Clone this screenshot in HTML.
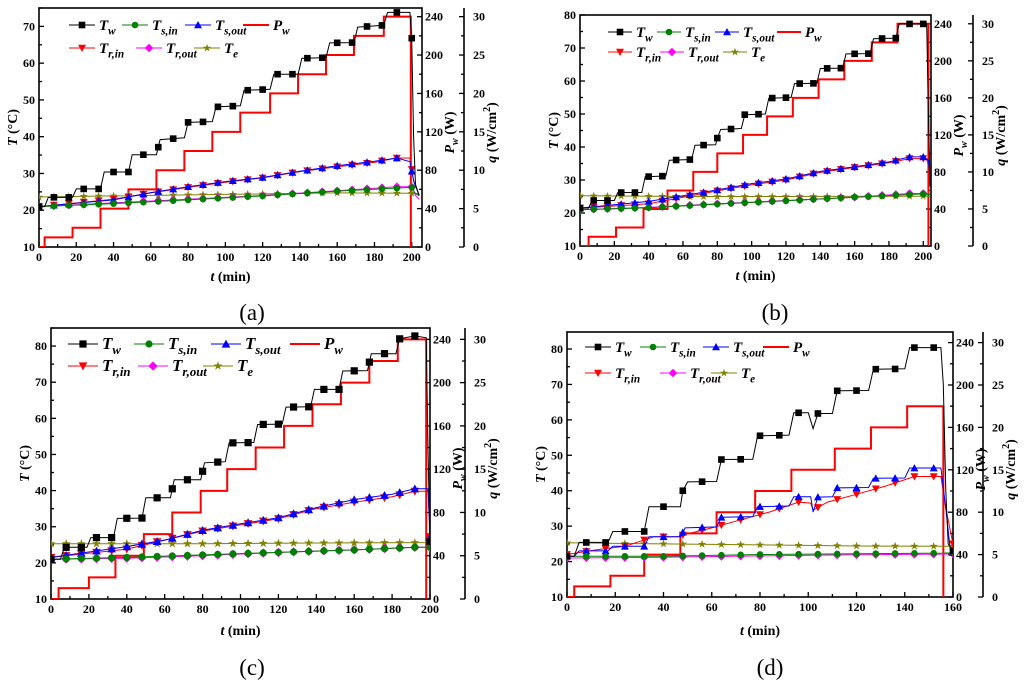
<!DOCTYPE html>
<html><head><meta charset="utf-8">
<style>
html,body{margin:0;padding:0;background:#fff;}
svg{display:block;}
svg text{font-family:"Liberation Serif",serif;}
.tk{font-size:12px;font-weight:bold;}
.cap{font-size:23px;}
</style></head>
<body>
<svg id="fig" width="1024" height="689" viewBox="0 0 1024 689"></svg>
<script>
// ---------- DATA ----------
const aTw=[[0,21],[3,21],[5,23.5],[18,23.5],[20,25.8],[33,25.8],[35,30.4],[48,30.4],[50,35.1],[63,35.1],[65,39.2],[78,39.7],[80,43.9],[93,44.1],[95,48.1],[108,48.4],[110,52.6],[124,52.9],[126,57],[139,57],[141,61.3],[154,61.5],[156,65.5],[169,65.6],[171,69.8],[185,70.3],[187,73.8],[199,73.8],[200,66.8],[201,40],[202,27],[204,24]];
const aTsin=[[0,21],[40,21.8],[80,22.8],[120,23.9],[160,25.2],[200,26.2],[202,24.5],[204,24]];
const aTsout=[[0,21],[40,22.8],[60,24.8],[80,26.4],[100,27.8],[120,28.9],[140,30.6],[160,32.1],[180,33.3],[192,34.2],[199,33.2],[201,28],[204,24]];
const aTrin=[[0,21],[40,23],[60,24.7],[80,26.2],[100,27.6],[120,28.8],[140,30.5],[160,31.8],[180,33],[192,34.2],[199,34.2],[201,28],[204,24]];
const aTrout=[[0,21],[40,22],[80,23],[120,24],[160,25.3],[192,26.4],[200,26.4],[202,24],[204,23]];
const aTe=[[0,23.6],[40,23.9],[100,24.3],[160,24.7],[200,24.6],[204,24.5]];
const aPwT=[0,3,18,33,48,63,78,93,108,124,139,154,169,185,199.5];
const aPwV=[0,10,20,40,60,80,100,120,140,160,180,200,220,240];

const bTw=[[0,21.5],[5,21.5],[7,23.8],[20,23.8],[22,26.2],[36,26.2],[38,31],[50,31.2],[52,36],[65,36.2],[67,40.5],[79,40.7],[80,42.7],[82,45.3],[94,45.6],[96,49.8],[108,50],[110,54.8],[123,55],[125,59.2],[138,59.3],[140,63.8],[153,63.9],[155,68.2],[169,68.3],[171,72.8],[184,73],[186,77.3],[202,77.3],[203,50],[204,28]];
const bTsin=[[0,21],[40,21.6],[80,22.7],[120,23.7],[160,24.8],[200,25.8],[204,25.5]];
const bTsout=[[0,21.5],[40,23.5],[60,25.2],[80,27],[100,28.9],[120,30.3],[140,32.6],[160,34],[180,35.5],[192,37],[200,37],[203,36],[204,31]];
const bTrin=[[0,21.5],[40,22.8],[60,24.8],[80,26.7],[100,28.5],[120,30],[140,32.3],[160,33.8],[180,35.2],[192,36.5],[202,36.5],[204,32]];
const bTrout=[[0,21],[40,21.7],[80,22.8],[120,23.8],[160,24.8],[192,25.9],[200,25.9],[204,25.8]];
const bTe=[[0,25.2],[60,25],[120,25],[200,25.1],[204,25]];
const bPwT=[0,5,21,37,51,66,80,95,109,124,139,154,170,185,203];
const bPwV=[0,10,20,40,60,80,100,120,140,160,180,200,220,240];

const cTw=[[0,21],[5,21],[7,24.3],[19,24.3],[21,27],[33,27],[35,32.3],[48,32.4],[50,38],[63,38],[65,43],[79,43],[81,47.7],[92,48],[94,53.2],[107,53.3],[109,58.3],[122,58.4],[124,63.1],[137,63.2],[139,68],[152,68],[154,73.1],[167,73.2],[169,77.9],[182,77.9],[184,82],[192,82.8],[198,82.3],[199,50],[200,26]];
const cTsin=[[0,21],[40,21.5],[80,22.2],[120,22.9],[160,23.6],[192,24.3],[200,24.3]];
const cTsout=[[0,21.5],[40,24.5],[60,26.3],[80,29],[100,30.8],[120,32.5],[140,35.3],[160,37.5],[180,39],[192,40.5],[199,40.5],[200,27]];
const cTrin=[[0,21.5],[40,23.8],[60,26.3],[80,28.8],[100,30.5],[120,32.2],[140,35],[160,36.8],[180,38.3],[192,39.8],[199,39.8],[200,27]];
const cTrout=[[0,21],[40,21.3],[80,22],[120,22.9],[160,23.6],[192,24.3],[200,24.3]];
const cTe=[[0,25.3],[80,25.3],[140,25.5],[200,25.6]];
const cPwT=[0,4,20,34,49,64,79,93,108,123,138,153,168,183,198];
const cPwV=[0,10,20,40,60,80,100,120,140,160,180,200,220,240];

const dTw=[[0,21.5],[3,21.5],[5,25.4],[17,25.4],[19,28.5],[32,28.5],[34,35.5],[47,35.5],[48,40],[50,42.5],[62,42.6],[64,48.8],[77,48.9],[79,55.5],[92,55.7],[94,62],[100,62],[102,57.5],[104,61.8],[110,61.8],[112,68.2],[125,68.3],[127,74.3],[140,74.4],[142,80.4],[155,80.4],[156,70],[157,40],[158,25],[160,23]];
const dTsin=[[0,21.5],[40,21.5],[80,22],[120,22.2],[156,22.4],[160,22.5]];
const dTsout=[[0,21.5],[3,21.5],[5,23],[17,23],[19,24.3],[32,24.3],[34,27],[47,27],[49,29.5],[62,29.8],[64,32.5],[77,32.7],[79,35.5],[92,35.7],[94,38.3],[101,38.3],[102,34],[104,38.2],[110,38.3],[112,40.8],[125,40.9],[127,43.5],[140,43.6],[142,46.4],[155,46.4],[157,35],[159,22.5],[160,22.5]];
const dTrin=[[0,22],[12,23.3],[24,24.3],[36,27],[46,27],[48,27.5],[60,29.5],[72,31.8],[84,34],[96,36.8],[101,36.5],[102,34.5],[108,36.8],[120,39],[132,41.3],[144,44],[155,44],[157,35],[160,25]];
const dTrout=[[0,21],[40,21.2],[80,21.6],[120,21.9],[156,22.1],[160,22.2]];
const dTe=[[0,25.3],[40,25],[80,24.7],[120,24.4],[160,24.3]];
const dPwT=[0,3,18,32,47,62,78,93,111,126,141,156];
const dPwV=[0,10,20,40,60,80,100,120,140,160,180];

// ---------- DRAWING ----------
const NS="http://www.w3.org/2000/svg";
const fig=document.getElementById('fig');
function mk(tag,attrs,parent){const e=document.createElementNS(NS,tag);for(const k in attrs)e.setAttribute(k,attrs[k]);if(tag==='text')e.setAttribute('font-family','Liberation Serif, serif');(parent||fig).appendChild(e);return e;}
function interp(pts,t){for(let i=0;i<pts.length-1;i++){if(t>=pts[i][0]&&t<=pts[i+1][0]){const f=(t-pts[i][0])/((pts[i+1][0]-pts[i][0])||1);return pts[i][1]+f*(pts[i+1][1]-pts[i][1]);}}return null;}
function marker(g,type,x,y,col,s){
  let e;
  if(type==='sq'){e=mk('rect',{x:x-s,y:y-s,width:2*s,height:2*s,fill:col},g);}
  else if(type==='ci'){e=mk('circle',{cx:x,cy:y,r:s,fill:col},g);}
  else if(type==='up'){e=mk('polygon',{points:`${x},${y-s*1.2} ${x-s*1.2},${y+s} ${x+s*1.2},${y+s}`,fill:col},g);}
  else if(type==='dn'){e=mk('polygon',{points:`${x},${y+s*1.2} ${x-s*1.2},${y-s} ${x+s*1.2},${y-s}`,fill:col},g);}
  else if(type==='di'){e=mk('polygon',{points:`${x},${y-s*1.3} ${x+s*1.3},${y} ${x},${y+s*1.3} ${x-s*1.3},${y}`,fill:col},g);}
  else {let p=[];for(let i=0;i<10;i++){const r=i%2?s*0.5:s*1.3;const a=-Math.PI/2+i*Math.PI/5;p.push((x+r*Math.cos(a)).toFixed(1)+','+(y+r*Math.sin(a)).toFixed(1));}e=mk('polygon',{points:p.join(' '),fill:col},g);}
  
  
}
const SER=[
 {k:'Tw',col:'#000',m:'sq',sub:'w'},
 {k:'Tsin',col:'#008000',m:'ci',sub:'s,in'},
 {k:'Tsout',col:'#0000ff',m:'up',sub:'s,out'},
 {k:'Trin',col:'#ff0000',m:'dn',sub:'r,in'},
 {k:'Trout',col:'#ff00ff',m:'di',sub:'r,out'},
 {k:'Te',col:'#808000',m:'st',sub:'e'}
];
function label(g,x,y,main,sub,fs){
  const t=mk('text',{x:x,y:y,'font-size':fs,'font-style':'italic','font-weight':'bold'},g);
  t.appendChild(document.createTextNode(main));
  const s=mk('tspan',{'font-size':fs*0.75,dy:fs*0.3},t);s.textContent=sub;
  return t;
}
function panel(p){
  const g=mk('g',{});
  
  
  const X=t=>p.L+(t-p.x0)/(p.x1-p.x0)*(p.R-p.L);
  const Y=v=>p.B-(v-p.y0)/(p.y1-p.y0)*(p.B-p.T);
  const YP=v=>p.B-(v)/(p.pw1)*(p.B-p.T);
  const fr=mk('rect',{x:p.L,y:p.T,width:p.R-p.L,height:p.B-p.T,fill:'none',stroke:'#000','stroke-width':1.6},g);
  
  for(let v=10;v<=p.y1;v+=5){const y=Y(v);const big=v%10===0;mk('line',{x1:p.L,y1:y,x2:p.L+(big?5:3),y2:y,stroke:'#000','stroke-width':1.3},g);
    if(big){const t=mk('text',{x:p.L-4,y:y+4,'text-anchor':'end',class:'tk'},g);t.textContent=v;}}
  for(let v=0;v<=p.x1;v+=10){const x=X(v);const big=v%20===0;mk('line',{x1:x,y1:p.B,x2:x,y2:p.B-(big?5:3),stroke:'#000','stroke-width':1.3},g);
    if(big){const t=mk('text',{x:x,y:p.B+14,'text-anchor':'middle',class:'tk'},g);t.textContent=v;}}
  for(let v=0;v<=p.pw1;v+=20){const y=YP(v);const big=v%40===0;mk('line',{x1:p.R,y1:y,x2:p.R-(big?5:3),y2:y,stroke:'#000','stroke-width':1.3},g);
    if(big){const t=mk('text',{x:p.R+3,y:y+4,class:'tk'},g);t.textContent=v;}}
  mk('line',{x1:p.Q,y1:p.T,x2:p.Q,y2:p.B,stroke:'#000','stroke-width':1.6},g);
  for(let v=0;v<=p.pw1/8;v+=2.5){const y=YP(v*8);const big=v%5===0;mk('line',{x1:p.Q,y1:y,x2:p.Q-(big?5:3),y2:y,stroke:'#000','stroke-width':1.3},g);
    if(big){const t=mk('text',{x:p.Q+9,y:y+4,class:'tk'},g);t.textContent=v;}}
  const yt=mk('text',{x:0,y:0,'font-size':14,'font-weight':'bold',transform:`translate(${p.L-22},${(p.T+p.B)/2}) rotate(-90)`,'text-anchor':'middle'},g);
  yt.innerHTML='<tspan font-style="italic">T</tspan> (°C)';
  const pt=mk('text',{x:0,y:0,'font-size':14,'font-weight':'bold',transform:`translate(${p.R+32},${(p.T+p.B)/2+5}) rotate(-90)`,'text-anchor':'middle'},g);
  pt.innerHTML='<tspan font-style="italic">P</tspan><tspan font-style="italic" font-size="10" dy="4">w</tspan><tspan dy="-4"> (W)</tspan>';
  const qt=mk('text',{x:0,y:0,'font-size':14,'font-weight':'bold',transform:`translate(${p.Q+32},${(p.T+p.B)/2+5}) rotate(-90)`,'text-anchor':'middle'},g);
  qt.innerHTML='<tspan font-style="italic">q</tspan> (W/cm<tspan font-size="10" dy="-6">2</tspan><tspan dy="6">)</tspan>';
  const xt=mk('text',{x:(p.L+p.R)/2,y:p.xtY,'font-size':14,'font-weight':'bold','text-anchor':'middle'},g);
  xt.innerHTML='<tspan font-style="italic">t</tspan> (min)';
  const cp=mk('text',{x:p.capX,y:p.capY,'text-anchor':'middle',class:'cap'},g);cp.textContent='('+p.id+')';
  const cid='clip'+p.id;const cl=mk('clipPath',{id:cid},g);mk('rect',{x:p.L,y:p.T,width:p.R-p.L,height:p.B-p.T},cl);
  const dg=mk('g',{'clip-path':`url(#${cid})`},g);
  let d=`M${X(p.pwT[0])},${YP(p.pwV[0])}`;
  for(let i=1;i<p.pwV.length;i++){d+=` H${X(p.pwT[i])} V${YP(p.pwV[i])}`;}
  d+=` H${X(p.pwT[p.pwT.length-1])} V${YP(0)}`;
  const pl=mk('path',{d:d,fill:'none',stroke:'#ff0000','stroke-width':2},dg);
  
  for(let si=SER.length-1;si>=0;si--){const s=SER[si];const pts=p.data[s.k];
    const sl=mk('polyline',{points:pts.map(q=>X(q[0]).toFixed(1)+','+Y(q[1]).toFixed(1)).join(' '),fill:'none',stroke:s.col,'stroke-width':1},dg);
    
    for(let t=0;t<=pts[pts.length-1][0];t+=8){const v=interp(pts,t);if(v!==null)marker(dg,s.m,X(t),Y(v),s.col,p.ms);}
  }
  const lg=mk('g',{},g);
  const order=[['Tw',0,0],['Tsin',0,1],['Tsout',0,2],['Pw',0,3],['Trin',1,0],['Trout',1,1],['Te',1,2]];
  order.forEach(o=>{const x=p.lgX[o[1]][o[2]];const y=p.lgY[o[1]];
    const eg=mk('g',{},lg);
    if(o[0]==='Pw'){mk('line',{x1:x,y1:y,x2:x+p.lgW,y2:y,stroke:'#ff0000','stroke-width':2},eg);label(eg,x+p.lgW+4,y+5,'P','w',p.lfs);return;}
    const s=SER.find(q=>q.k===o[0]);
    mk('line',{x1:x,y1:y,x2:x+p.lgW,y2:y,stroke:s.col,'stroke-width':1},eg);
    marker(eg,s.m,x+p.lgW/2,y,s.col,p.ms);
    label(eg,x+p.lgW+4,y+5,'T',s.sub,p.lfs);
  });
}
panel({id:'a',L:39,R:422,T:8,B:247,x0:0,x1:205.5,y0:10,y1:75,pw1:249,Q:464,xtY:281,capX:252,capY:320,ms:3.3,lfs:15,lgW:26,
  lgX:[[69,122,185,243],[69,136,194]],lgY:[25,48],pwT:aPwT,pwV:aPwV,
  data:{Tw:aTw,Tsin:aTsin,Tsout:aTsout,Trin:aTrin,Trout:aTrout,Te:aTe}});
panel({id:'b',L:580,R:931,T:15,B:246,x0:0,x1:204.5,y0:10,y1:80,pw1:249.5,Q:973,xtY:280,capX:775,capY:320,ms:3.3,lfs:15,lgW:24,
  lgX:[[608,657,715,777],[608,660,723]],lgY:[32,52],pwT:bPwT,pwV:bPwV,
  data:{Tw:bTw,Tsin:bTsin,Tsout:bTsout,Trin:bTrin,Trout:bTrout,Te:bTe}});
panel({id:'c',L:51,R:430,T:328,B:599,x0:0,x1:200,y0:10,y1:85,pw1:250.5,Q:465,xtY:635,capX:252,capY:675,ms:3.6,lfs:17,lgW:30,
  lgX:[[68,134,211,290],[68,138,203]],lgY:[344,366],pwT:cPwT,pwV:cPwV,
  data:{Tw:cTw,Tsin:cTsin,Tsout:cTsout,Trin:cTrin,Trout:cTrout,Te:cTe}});
panel({id:'d',L:567,R:953,T:332,B:597,x0:0,x1:160,y0:10,y1:84.8,pw1:250,Q:983,xtY:635,capX:770,capY:675,ms:3.3,lfs:15,lgW:26,
  lgX:[[585,640,703,763],[585,660,711]],lgY:[347,373],pwT:dPwT,pwV:dPwV,
  data:{Tw:dTw,Tsin:dTsin,Tsout:dTsout,Trin:dTrin,Trout:dTrout,Te:dTe}});
</script>
</body></html>
